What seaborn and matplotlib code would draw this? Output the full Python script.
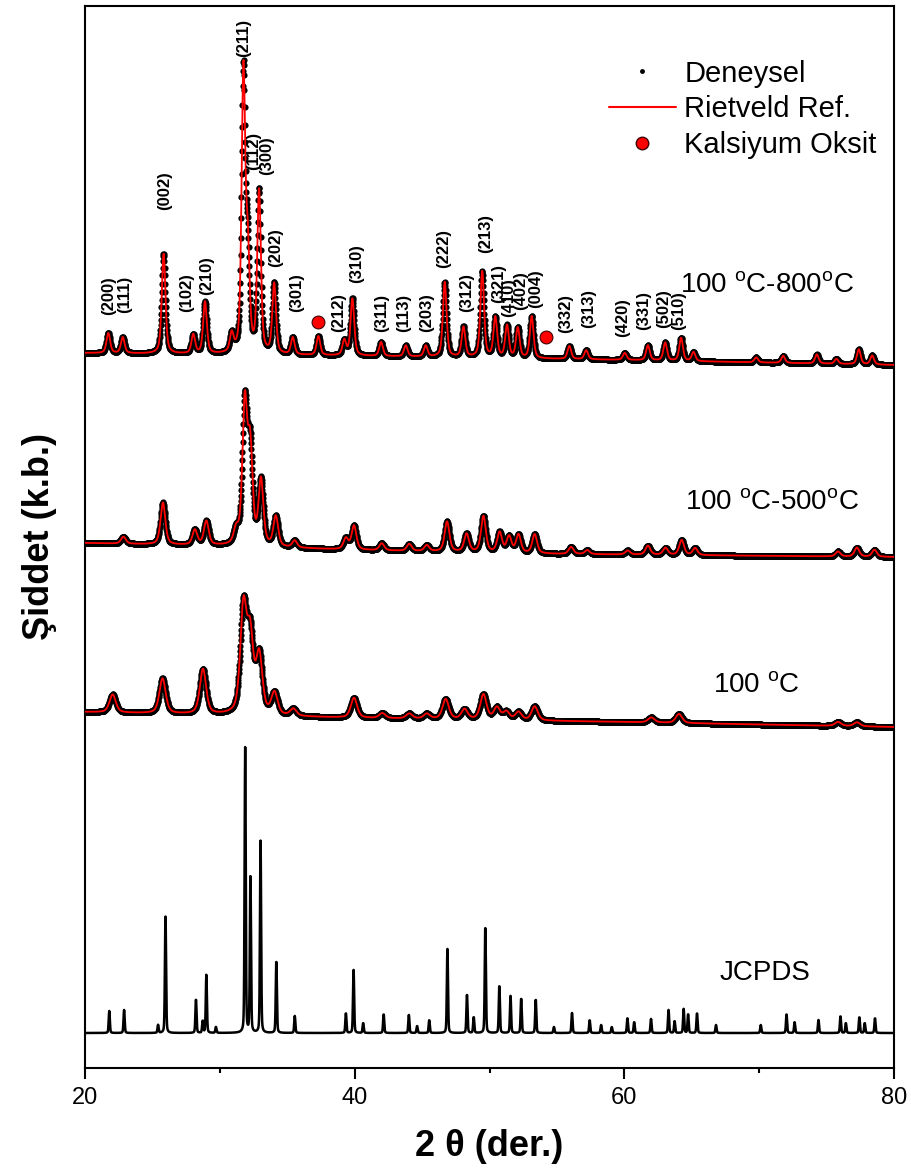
import numpy as np
import pandas as pd
import matplotlib
matplotlib.use("Agg")
import matplotlib.pyplot as plt
from matplotlib.lines import Line2D
import seaborn as sns

# ---------------- data (intensity in arbitrary units) -------------
# JCPDS reference pattern: peak positions (2theta) and heights
jcpds_pos = [21.80, 22.90, 25.42, 25.97, 28.23, 28.73, 29.00, 29.71, 31.88, 32.27, 33.02,
             34.19, 35.56, 39.35, 39.92, 40.63, 42.15, 44.02, 44.63, 45.53, 46.88, 48.33,
             48.83, 49.69, 50.73, 51.56, 52.35, 53.43, 54.78, 56.12, 57.43, 58.28, 59.07,
             60.23, 60.73, 61.98, 63.28, 63.73, 64.40, 64.73, 65.39, 66.80, 70.12, 72.03,
             72.63, 74.40, 76.03, 76.43, 77.43, 77.83, 78.59]
jcpds_h = [22, 23, 8, 120, 34, 12, 58, 6, 285, 160, 192, 73, 17, 20, 63, 10, 19, 18, 7, 13,
           84, 39, 16, 108, 48, 37, 35, 34, 6, 20, 13, 8, 6, 15, 11, 14, 23, 12, 24, 19, 20,
           8, 8, 19, 11, 13, 17, 10, 16, 10, 15]
jcpds_base = 35

# 100 C-800 C
p800_pos = [21.73, 22.80, 25.83, 28.03, 28.90, 30.88, 31.75, 32.07, 32.91, 34.03, 35.41,
            37.31, 39.23, 39.83, 41.96, 43.79, 45.27, 46.68, 48.07, 49.46, 50.43, 51.30,
            52.10, 53.13, 55.92, 57.17, 60.03, 61.75, 63.03, 64.21, 65.13, 69.78, 71.78,
            74.28, 75.73, 77.39, 78.38]
p800_h = [20, 16, 100, 19, 52, 18, 280, 95, 162, 70, 17, 19, 15, 57, 14, 11, 11, 75, 30,
          86, 40, 32, 30, 42, 13, 9, 7, 15, 18, 23, 9, 5, 7, 9, 5, 15, 9]
p800_base_x = [20, 40, 60, 80]
p800_base_y = [715, 712, 708, 703]

# 100 C-500 C
p500_pos = [22.85, 25.78, 28.15, 29.00, 31.21, 31.85, 32.25, 33.05, 34.15, 35.55, 39.35,
            39.95, 42.01, 44.05, 45.35, 46.85, 48.30, 49.55, 50.75, 51.45, 52.15, 53.35,
            56.05, 57.25, 60.25, 61.75, 63.05, 64.25, 65.25, 75.85, 77.25, 78.55]
p500_h = [7, 42, 15, 24, 14, 140, 95, 65, 30, 7, 11, 24, 7, 7, 6, 30, 18, 36, 20, 16, 18,
          19, 7, 4, 4, 9, 7, 15, 7, 5, 9, 7]
p500_base_x = [20, 30, 40, 55, 80]
p500_base_y = [525, 522, 518, 514, 511]

# 100 C
p100_pos = [22.05, 25.75, 28.75, 31.75, 32.25, 32.92, 34.05, 35.45, 39.95, 42.05, 44.05,
            45.35, 46.75, 48.15, 49.55, 50.55, 51.25, 52.15, 53.35, 62.00, 64.05, 75.85,
            77.25]
p100_h = [18, 35, 45, 105, 75, 58, 22, 7, 20, 5, 5, 5, 20, 10, 25, 12, 8, 8, 14, 5, 9, 4, 4]
p100_base_x = [20, 40, 60, 80]
p100_base_y = [356, 350, 346, 341]

# Calcium oxide markers on the 800 C pattern
cao_pos = [37.31, 54.18]
cao_y = [746, 731]

# Miller indices labels for the 800 C pattern
hkl_text = ["(200)", "(111)", "(002)", "(102)", "(210)", "(211)", "(112)", "(300)", "(202)",
            "(301)", "(212)", "(310)", "(311)", "(113)", "(203)", "(222)", "(312)", "(213)",
            "(321)", "(410)", "(402)", "(004)", "(332)", "(313)", "(420)", "(331)", "(502)",
            "(510)"]
hkl_x = [21.73, 22.97, 25.94, 27.55, 29.03, 31.75, 32.49, 33.49, 34.11, 35.72, 38.80, 40.17,
         42.03, 43.63, 45.37, 46.60, 48.34, 49.70, 50.66, 51.40, 52.29, 53.41, 55.64, 57.34,
         59.86, 61.42, 62.91, 64.02]
hkl_y = [753, 755, 858, 756, 773, 1011, 898, 893, 801, 756, 736, 785, 736, 736, 736, 800,
         756, 815, 765, 751, 758, 760, 735, 740, 731, 738, 740, 738]

sample_labels = ["100 $^{\\mathrm{o}}$C-800$^{\\mathrm{o}}$C",
                 "100 $^{\\mathrm{o}}$C-500$^{\\mathrm{o}}$C",
                 "100 $^{\\mathrm{o}}$C", "JCPDS"]
sample_label_x = [64.1, 64.5, 66.6, 67.1]
sample_label_y = [783, 566, 383, 95]

# ---------------- helpers ----------------
two_theta = np.arange(20.0, 80.0001, 0.02)


def profile(pos, h, fwhm, eta=0.5):
    y = np.zeros_like(two_theta)
    for p, a in zip(pos, h):
        d = (two_theta - p) / (fwhm / 2.0)
        y += a * (eta / (1 + d ** 2) + (1 - eta) * np.exp(-np.log(2) * d ** 2))
    return y


def pattern(pos, h, fwhm, bx, by):
    return np.interp(two_theta, bx, by) + profile(pos, h, fwhm)


y800 = pattern(p800_pos, p800_h, 0.32, p800_base_x, p800_base_y)
y500 = pattern(p500_pos, p500_h, 0.42, p500_base_x, p500_base_y)
y100 = pattern(p100_pos, p100_h, 0.55, p100_base_x, p100_base_y)
yj = jcpds_base + profile(jcpds_pos, jcpds_h, 0.10, eta=0.3)

# ---------------- style ----------------
sns.set_theme(style="ticks")
plt.rcParams["font.family"] = ["Liberation Sans", "DejaVu Sans"]
plt.rcParams["mathtext.fontset"] = "custom"
plt.rcParams["mathtext.rm"] = "Liberation Sans"
plt.rcParams["mathtext.it"] = "Liberation Sans:italic"
plt.rcParams["mathtext.bf"] = "Liberation Sans:bold"
for k in ("text.color", "axes.labelcolor", "xtick.color", "ytick.color", "axes.edgecolor"):
    plt.rcParams[k] = "black"

fig = plt.figure(figsize=(9.11, 11.71), dpi=100)
ax = fig.add_axes([85 / 911, 1 - 1068 / 1171, 809 / 911, 1062 / 1171])

for yy in (y800, y500, y100):
    df = pd.DataFrame({"x": two_theta, "y": yy})
    sns.scatterplot(data=df, x="x", y="y", ax=ax, color="black", s=20, linewidth=0,
                    zorder=2)
    sns.lineplot(data=df, x="x", y="y", ax=ax, color="red", lw=1.3, estimator=None,
                 sort=False, zorder=3)

dfj = pd.DataFrame({"x": two_theta, "y": yj})
sns.lineplot(data=dfj, x="x", y="y", ax=ax, color="black", lw=1.8, estimator=None,
             sort=False, zorder=3)

dfc = pd.DataFrame({"x": cao_pos, "y": cao_y})
sns.scatterplot(data=dfc, x="x", y="y", ax=ax, color="red", edgecolor="#400000", s=85,
                linewidth=0.8, zorder=4)

for t, xx, yy in zip(hkl_text, hkl_x, hkl_y):
    ax.text(xx, yy, t, rotation=90, ha="center", va="bottom", fontsize=12,
            fontweight="bold", color="black")

for t, xx, yy in zip(sample_labels, sample_label_x, sample_label_y):
    ax.text(xx, yy, t, ha="left", va="center", fontsize=20, color="black")

ax.set_xlim(20, 80)
ax.set_ylim(0, 1062)
ax.set_xticks([20, 40, 60, 80])
ax.set_xticks([30, 50, 70], minor=True)
ax.set_yticks([])
ax.tick_params(axis="x", which="major", length=8, width=1.5, direction="out",
               labelsize=17, pad=6, colors="black")
ax.tick_params(axis="x", which="minor", length=3.8, width=1.5, direction="out")
for s in ax.spines.values():
    s.set_linewidth(1.5)
    s.set_color("black")
    s.set_visible(True)

ax.set_xlabel("2 θ (der.)", fontsize=26, fontweight="bold", labelpad=14)
ax.set_ylabel("Şiddet (k.b.)", fontsize=26, fontweight="bold", labelpad=20)

handles = [
    Line2D([], [], ls="none", marker="o", color="black", markersize=2.5),
    Line2D([], [], color="red", lw=1.5),
    Line2D([], [], ls="none", marker="o", markerfacecolor="red",
           markeredgecolor="#400000", markersize=9),
]
leg = fig.legend(handles, ["Deneysel", "Rietveld Ref.", "Kalsiyum Oksit"],
                 loc="upper left", bbox_to_anchor=(594 / 911, 1 - 45 / 1171),
                 frameon=False, fontsize=21, borderpad=0, handlelength=2.3,
                 handletextpad=0.3, labelspacing=0.27)

fig.savefig("out.png", dpi=100)
